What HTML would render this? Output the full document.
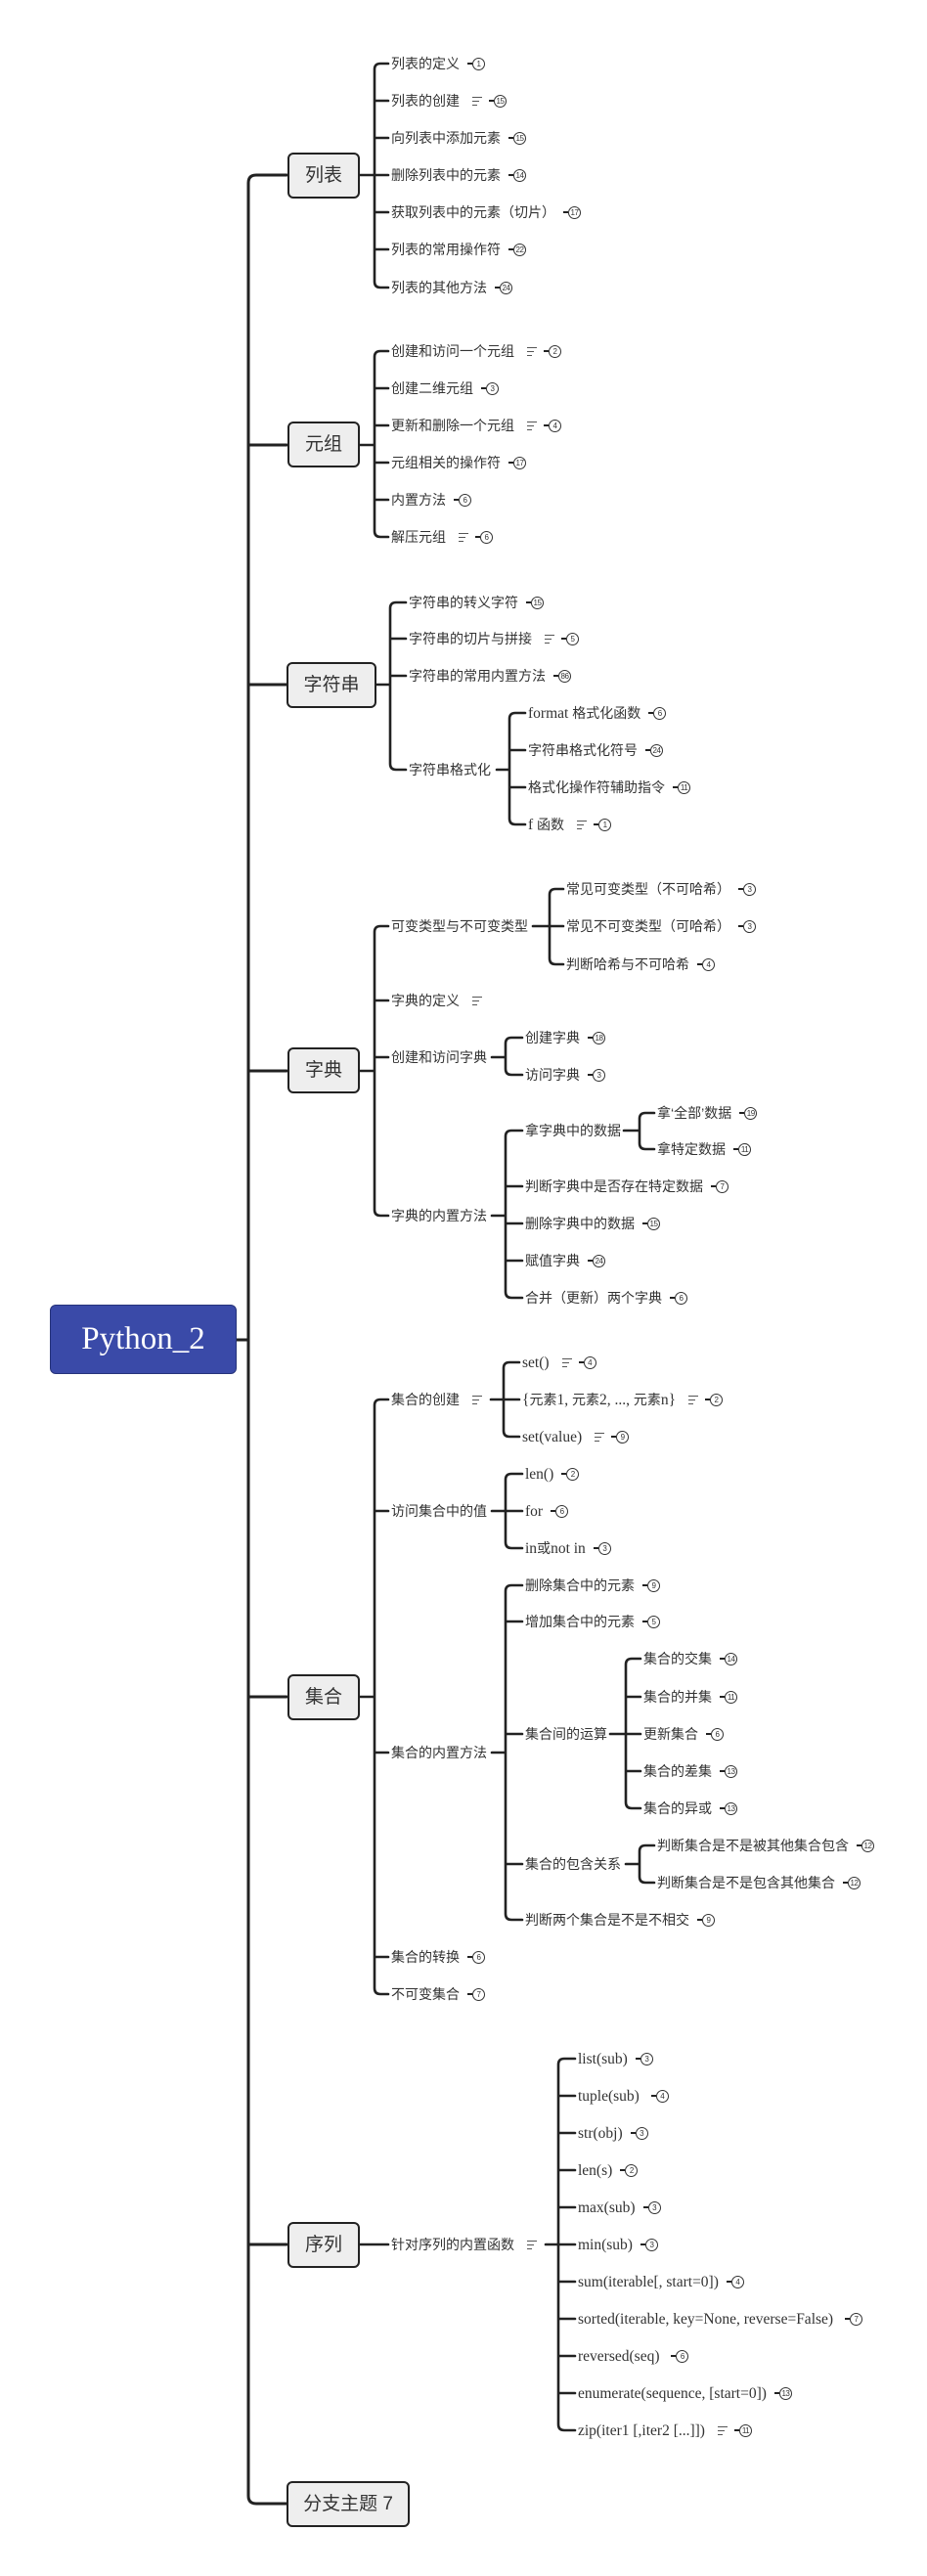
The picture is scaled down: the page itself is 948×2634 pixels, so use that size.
<!DOCTYPE html>
<html><head><meta charset="utf-8"><style>
html,body{margin:0;padding:0;background:#fff}
body{width:948px;height:2634px;position:relative;overflow:hidden}
svg.c{position:absolute;left:0;top:0}
.t{position:absolute;white-space:nowrap;font:14px "Liberation Sans","Noto Sans CJK SC",sans-serif;color:#333;line-height:20px;height:20px}
.s{font-family:"Liberation Serif","Noto Sans CJK SC",serif;font-size:15.5px}
.b{display:inline-block;width:11px;height:11px;border:1.3px solid #333;border-radius:50%;font-size:8px;line-height:11px;text-align:center;margin-left:13px;position:relative;font-style:normal;vertical-align:middle;font-family:"Liberation Sans",sans-serif;top:-1px;letter-spacing:-0.5px}
.b::before{content:"";position:absolute;left:-6px;top:4.5px;width:5px;height:2px;background:#222}
.n{display:inline-block;width:10px;height:10px;margin-left:13px;vertical-align:middle;position:relative;top:-1px;background:linear-gradient(#555,#555) 0 1px/10px 1.2px no-repeat,linear-gradient(#555,#555) 0 5px/7px 1.2px no-repeat,linear-gradient(#555,#555) 0 9px/5px 1.2px no-repeat}
.n+.b{margin-left:12px}
.box{position:absolute;box-sizing:border-box;border:2px solid #222;border-radius:6px;background:#eeeeee;font:19px "Liberation Sans","Noto Sans CJK SC",sans-serif;color:#333;text-align:center}
.root{position:absolute;left:51px;top:1334px;width:191px;height:71px;box-sizing:border-box;background:#3a4aa8;border:1.5px solid #26337a;border-radius:6px;color:#fff;font:33px "Liberation Serif",serif;text-align:center;line-height:68px}
</style></head><body>
<svg class="c" width="948" height="2634" fill="none" stroke="#222" stroke-width="2.6" stroke-linecap="round">
<!-- spine -->
<path stroke-width="3" d="M293 179H262Q254 179 254 187V2552Q254 2560 262 2560H293M254 455H293M254 700H293M254 1095H293M254 1735H293M254 2295H293M242 1370H254"/>
<!-- 列表 -->
<path d="M367 179H383M397 65H389Q383 65 383 71V288Q383 294 389 294H397M383 103H397M383 141H397M383 179H397M383 217H397M383 255H397"/>
<!-- 元组 -->
<path d="M367 455H383M397 359H389Q383 359 383 365V543Q383 549 389 549H397M383 397H397M383 435H397M383 473H397M383 511H397"/>
<!-- 字符串 -->
<path d="M385 700H399M415 616H405Q399 616 399 622V781Q399 787 405 787H415M399 653H415M399 691H415"/>
<path d="M508 787H521M537 729H527Q521 729 521 735V837Q521 843 527 843H537M521 767H537M521 805H537"/>
<!-- 字典 -->
<path d="M367 1095H383M397 947H389Q383 947 383 953V1237Q383 1243 389 1243H397M383 1023H397M383 1081H397"/>
<path d="M545 947H562M576 909H568Q562 909 562 915V980Q562 986 568 986H576M562 947H576"/>
<path d="M503 1081H517M534 1061H523Q517 1061 517 1067V1093Q517 1099 523 1099H534"/>
<path d="M503 1243H517M534 1156H523Q517 1156 517 1162V1321Q517 1327 523 1327H534M517 1213H534M517 1251H534M517 1289H534"/>
<path d="M638 1156H654M669 1138H660Q654 1138 654 1144V1169Q654 1175 660 1175H669"/>
<!-- 集合 -->
<path d="M367 1735H383M397 1431H389Q383 1431 383 1437V2033Q383 2039 389 2039H397M383 1545H397M383 1792H397M383 2001H397"/>
<path d="M502 1431H515M531 1393H521Q515 1393 515 1399V1463Q515 1469 521 1469H531M515 1431H531"/>
<path d="M503 1545H517M534 1507H523Q517 1507 517 1513V1577Q517 1583 523 1583H534M517 1545H534"/>
<path d="M503 1792H517M534 1621H523Q517 1621 517 1627V1957Q517 1963 523 1963H534M517 1658H534M517 1773H534M517 1906H534"/>
<path d="M624 1773H640M655 1696H646Q640 1696 640 1702V1843Q640 1849 646 1849H655M640 1735H655M640 1773H655M640 1811H655"/>
<path d="M640 1906H654M669 1887H660Q654 1887 654 1893V1919Q654 1925 660 1925H669"/>
<!-- 序列 -->
<path d="M367 2295H397M558 2295H571M588 2105H577Q571 2105 571 2111V2479Q571 2485 577 2485H588M571 2143H588M571 2181H588M571 2219H588M571 2257H588M571 2295H588M571 2333H588M571 2371H588M571 2409H588M571 2447H588"/>
</svg>

<div class="root">Python_2</div>
<div class="box" style="left:294px;top:156px;width:74px;height:47px;line-height:43px">列表</div>
<div class="box" style="left:294px;top:431px;width:74px;height:47px;line-height:43px">元组</div>
<div class="box" style="left:293px;top:677px;width:92px;height:47px;line-height:43px">字符串</div>
<div class="box" style="left:294px;top:1071px;width:74px;height:47px;line-height:43px">字典</div>
<div class="box" style="left:294px;top:1712px;width:74px;height:47px;line-height:43px">集合</div>
<div class="box" style="left:294px;top:2272px;width:74px;height:47px;line-height:43px">序列</div>
<div class="box" style="left:293px;top:2537px;width:126px;height:47px;line-height:43px">分支主题 7</div>

<!-- 列表 -->
<div class="t" style="left:400px;top:55px">列表的定义<i class="b">1</i></div>
<div class="t" style="left:400px;top:93px">列表的创建<i class="n"></i><i class="b">15</i></div>
<div class="t" style="left:400px;top:131px">向列表中添加元素<i class="b">15</i></div>
<div class="t" style="left:400px;top:169px">删除列表中的元素<i class="b">14</i></div>
<div class="t" style="left:400px;top:207px">获取列表中的元素（切片）<i class="b">17</i></div>
<div class="t" style="left:400px;top:245px">列表的常用操作符<i class="b">22</i></div>
<div class="t" style="left:400px;top:284px">列表的其他方法<i class="b">24</i></div>
<!-- 元组 -->
<div class="t" style="left:400px;top:349px">创建和访问一个元组<i class="n"></i><i class="b">2</i></div>
<div class="t" style="left:400px;top:387px">创建二维元组<i class="b">3</i></div>
<div class="t" style="left:400px;top:425px">更新和删除一个元组<i class="n"></i><i class="b">4</i></div>
<div class="t" style="left:400px;top:463px">元组相关的操作符<i class="b">17</i></div>
<div class="t" style="left:400px;top:501px">内置方法<i class="b">6</i></div>
<div class="t" style="left:400px;top:539px">解压元组<i class="n"></i><i class="b">6</i></div>
<!-- 字符串 -->
<div class="t" style="left:418px;top:606px">字符串的转义字符<i class="b">15</i></div>
<div class="t" style="left:418px;top:643px">字符串的切片与拼接<i class="n"></i><i class="b">5</i></div>
<div class="t" style="left:418px;top:681px">字符串的常用内置方法<i class="b">86</i></div>
<div class="t" style="left:418px;top:777px">字符串格式化</div>
<div class="t" style="left:540px;top:719px"><span class="s">format</span> 格式化函数<i class="b">6</i></div>
<div class="t" style="left:540px;top:757px">字符串格式化符号<i class="b">24</i></div>
<div class="t" style="left:540px;top:795px">格式化操作符辅助指令<i class="b">11</i></div>
<div class="t" style="left:540px;top:833px"><span class="s">f</span> 函数<i class="n"></i><i class="b">1</i></div>
<!-- 字典 -->
<div class="t" style="left:400px;top:937px">可变类型与不可变类型</div>
<div class="t" style="left:579px;top:899px">常见可变类型（不可哈希）<i class="b">3</i></div>
<div class="t" style="left:579px;top:937px">常见不可变类型（可哈希）<i class="b">3</i></div>
<div class="t" style="left:579px;top:976px">判断哈希与不可哈希<i class="b">4</i></div>
<div class="t" style="left:400px;top:1013px">字典的定义<i class="n"></i></div>
<div class="t" style="left:400px;top:1071px">创建和访问字典</div>
<div class="t" style="left:537px;top:1051px">创建字典<i class="b">18</i></div>
<div class="t" style="left:537px;top:1089px">访问字典<i class="b">3</i></div>
<div class="t" style="left:400px;top:1233px">字典的内置方法</div>
<div class="t" style="left:537px;top:1146px">拿字典中的数据</div>
<div class="t" style="left:672px;top:1128px">拿‘全部’数据<i class="b">19</i></div>
<div class="t" style="left:672px;top:1165px">拿特定数据<i class="b">11</i></div>
<div class="t" style="left:537px;top:1203px">判断字典中是否存在特定数据<i class="b">7</i></div>
<div class="t" style="left:537px;top:1241px">删除字典中的数据<i class="b">15</i></div>
<div class="t" style="left:537px;top:1279px">赋值字典<i class="b">24</i></div>
<div class="t" style="left:537px;top:1317px">合并（更新）两个字典<i class="b">6</i></div>
<!-- 集合 -->
<div class="t" style="left:400px;top:1421px">集合的创建<i class="n"></i></div>
<div class="t" style="left:534px;top:1383px"><span class="s">set()</span><i class="n"></i><i class="b">4</i></div>
<div class="t" style="left:534px;top:1421px"><span class="s">{</span>元素<span class="s">1, </span>元素<span class="s">2, ..., </span>元素<span class="s">n}</span><i class="n"></i><i class="b">2</i></div>
<div class="t" style="left:534px;top:1459px"><span class="s">set(value)</span><i class="n"></i><i class="b">9</i></div>
<div class="t" style="left:400px;top:1535px">访问集合中的值</div>
<div class="t" style="left:537px;top:1497px"><span class="s">len()</span><i class="b">2</i></div>
<div class="t" style="left:537px;top:1535px"><span class="s">for</span><i class="b">6</i></div>
<div class="t" style="left:537px;top:1573px"><span class="s">in</span>或<span class="s">not in</span><i class="b">3</i></div>
<div class="t" style="left:400px;top:1782px">集合的内置方法</div>
<div class="t" style="left:537px;top:1611px">删除集合中的元素<i class="b">9</i></div>
<div class="t" style="left:537px;top:1648px">增加集合中的元素<i class="b">5</i></div>
<div class="t" style="left:537px;top:1763px">集合间的运算</div>
<div class="t" style="left:658px;top:1686px">集合的交集<i class="b">14</i></div>
<div class="t" style="left:658px;top:1725px">集合的并集<i class="b">11</i></div>
<div class="t" style="left:658px;top:1763px">更新集合<i class="b">6</i></div>
<div class="t" style="left:658px;top:1801px">集合的差集<i class="b">13</i></div>
<div class="t" style="left:658px;top:1839px">集合的异或<i class="b">13</i></div>
<div class="t" style="left:537px;top:1896px">集合的包含关系</div>
<div class="t" style="left:672px;top:1877px">判断集合是不是被其他集合包含<i class="b">12</i></div>
<div class="t" style="left:672px;top:1915px">判断集合是不是包含其他集合<i class="b">12</i></div>
<div class="t" style="left:537px;top:1953px">判断两个集合是不是不相交<i class="b">9</i></div>
<div class="t" style="left:400px;top:1991px">集合的转换<i class="b">6</i></div>
<div class="t" style="left:400px;top:2029px">不可变集合<i class="b">7</i></div>
<!-- 序列 -->
<div class="t" style="left:400px;top:2285px">针对序列的内置函数<i class="n"></i></div>
<div class="t" style="left:591px;top:2095px"><span class="s">list(sub)</span><i class="b">3</i></div>
<div class="t" style="left:591px;top:2133px"><span class="s">tuple(sub)&nbsp;</span><i class="b">4</i></div>
<div class="t" style="left:591px;top:2171px"><span class="s">str(obj)</span><i class="b">3</i></div>
<div class="t" style="left:591px;top:2209px"><span class="s">len(s)</span><i class="b">2</i></div>
<div class="t" style="left:591px;top:2247px"><span class="s">max(sub)</span><i class="b">3</i></div>
<div class="t" style="left:591px;top:2285px"><span class="s">min(sub)</span><i class="b">3</i></div>
<div class="t" style="left:591px;top:2323px"><span class="s">sum(iterable[, start=0])</span><i class="b">4</i></div>
<div class="t" style="left:591px;top:2361px"><span class="s">sorted(iterable, key=None, reverse=False)&nbsp;</span><i class="b">7</i></div>
<div class="t" style="left:591px;top:2399px"><span class="s">reversed(seq)&nbsp;</span><i class="b">6</i></div>
<div class="t" style="left:591px;top:2437px"><span class="s">enumerate(sequence, [start=0])</span><i class="b">13</i></div>
<div class="t" style="left:591px;top:2475px"><span class="s">zip(iter1 [,iter2 [...]])</span><i class="n"></i><i class="b">11</i></div>
</body></html>
